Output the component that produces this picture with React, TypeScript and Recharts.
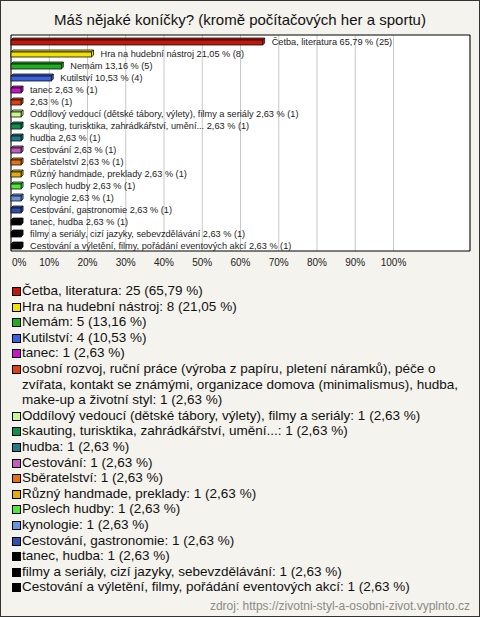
import { BarChart, Bar, XAxis, YAxis, CartesianGrid, ReferenceArea } from 'recharts'

const names = [
  'Četba, literatura',
  'Hra na hudební nástroj',
  'Nemám',
  'Kutilství',
  'tanec',
  'osobní rozvoj, ruční práce (výroba z papíru, pletení náramků), péče o zvířata, kontakt se známými, organizace domova (minimalismus), hudba, make-up a životní styl',
  'Oddílový vedoucí (dětské tábory, výlety), filmy a seriály',
  'skauting, turisktika, zahrádkářství, umění...',
  'hudba',
  'Cestování',
  'Sběratelství',
  'Různý handmade, preklady',
  'Poslech hudby',
  'kynologie',
  'Cestování, gastronomie',
  'tanec, hudba',
  'filmy a seriály, cizí jazyky, sebevzdělávání',
  'Cestování a výletění, filmy, pořádání eventových akcí',
]

const counts = [25, 8, 5, 4, 1, 1, 1, 1, 1, 1, 1, 1, 1, 1, 1, 1, 1, 1]

const percents = [65.79, 21.05, 13.16, 10.53, 2.63, 2.63, 2.63, 2.63, 2.63, 2.63, 2.63, 2.63, 2.63, 2.63, 2.63, 2.63, 2.63, 2.63]

const colors = [
  '#c4170c', '#f2e000', '#1fae1f', '#3a62e0', '#c716c7', '#e0400e',
  '#c9f78a', '#0f8f4f', '#1f7a8a', '#c25bc2', '#e6720f', '#e3ae0c',
  '#4fe83a', '#6a94dc', '#2d4fb0', '#000000', '#000000', '#000000',
]

const xTicks = [0, 10, 20, 30, 40, 50, 60, 70, 80, 90, 100]

const data = names.map((name, i) => ({ name, value: percents[i], count: counts[i], color: colors[i] }))

const FONT = '"Liberation Sans", Arial, sans-serif'
const DEPTH = 2

const fmt = (v: number) => v.toFixed(2).replace('.', ',') + ' %'

// flat 3d box like the old chart generator draws
function Box3D(props: any) {
  const { x, y, width, height, payload } = props
  const fill = payload.color
  const d = DEPTH
  const h = height - d
  const top = `${x},${y + d} ${x + d},${y} ${x + width + d},${y} ${x + width},${y + d}`
  const side = `${x + width},${y + d} ${x + width + d},${y} ${x + width + d},${y + h} ${x + width},${y + h + d}`
  return (
    <g stroke="#111" strokeWidth={0.8}>
      <polygon points={top} fill={fill} />
      <polygon points={side} fill={fill} />
      <rect x={x} y={y + d} width={width} height={h} fill={fill} />
    </g>
  )
}

function BarText(props: any) {
  const { x, y, width, height, index } = props
  const name = names[index].length > 80 ? '' : names[index] + ' '
  return (
    <text
      x={x + width + DEPTH + 7}
      y={y + height / 2}
      dominantBaseline="central"
      fontSize={9.2}
      fontFamily={FONT}
      fill="#222"
    >
      {`${name}${fmt(percents[index])} (${counts[index]})`}
    </text>
  )
}

function PctTick(props: any) {
  const { x, y, payload, index } = props
  return (
    <text
      x={index === 0 ? x + 1 : x}
      y={y}
      dy="0.71em"
      textAnchor={index === 0 ? 'start' : 'middle'}
      fontSize={10}
      fontFamily={FONT}
      fill="#222"
    >
      {`${payload.value}%`}
    </text>
  )
}

export default function App() {
  return (
    <div
      style={{
        position: 'absolute',
        left: 0,
        top: 0,
        width: 480,
        height: 617,
        boxSizing: 'border-box',
        border: '1px solid #333',
        background: '#f4f3ed',
        fontFamily: FONT,
        color: '#111',
      }}
    >
      <style>{'body{margin:0}'}</style>
      <div style={{ position: 'absolute', top: 10, left: 0, width: 478, textAlign: 'center', fontSize: 15 }}>
        Máš nějaké koníčky? (kromě počítačových her a sportu)
      </div>
      <div style={{ position: 'absolute', top: -1, left: -1 }}>
        <BarChart
          width={480}
          height={275}
          data={data}
          layout="vertical"
          margin={{ top: 35, right: 10, bottom: 0, left: 11 }}
          barCategoryGap={0}
        >
          <CartesianGrid horizontal={false} stroke="#c8c8c8" fill="#ffffff" />
          <XAxis
            type="number"
            domain={[0, 120]}
            ticks={xTicks}
            axisLine={false}
            tickLine={false}
            height={24}
            tick={PctTick}
            interval={0}
          />
          <YAxis type="category" dataKey="name" hide width={0} />
          <ReferenceArea x1={0} x2={120} fill="none" stroke="#000" strokeWidth={1} ifOverflow="visible" />
          <Bar dataKey="value" barSize={7} shape={Box3D} label={BarText} isAnimationActive={false} />
        </BarChart>
      </div>
      <div style={{ position: 'absolute', top: 282, left: 10, width: 462, fontSize: 13.5, lineHeight: '15.6px' }}>
        {names.map((n, i) => (
          <div key={i} style={{ position: 'relative', paddingLeft: 11 }}>
            <span
              style={{
                position: 'absolute',
                left: 1,
                top: 4,
                width: 7,
                height: 7,
                border: '1px solid #000',
                background: colors[i],
              }}
            />
            {`${n}: ${counts[i]} (${fmt(percents[i])})`}
          </div>
        ))}
      </div>
      <div style={{ position: 'absolute', right: 9, bottom: 3, fontSize: 12, color: '#8a8a8a' }}>
        zdroj: https://zivotni-styl-a-osobni-zivot.vyplnto.cz
      </div>
    </div>
  )
}
